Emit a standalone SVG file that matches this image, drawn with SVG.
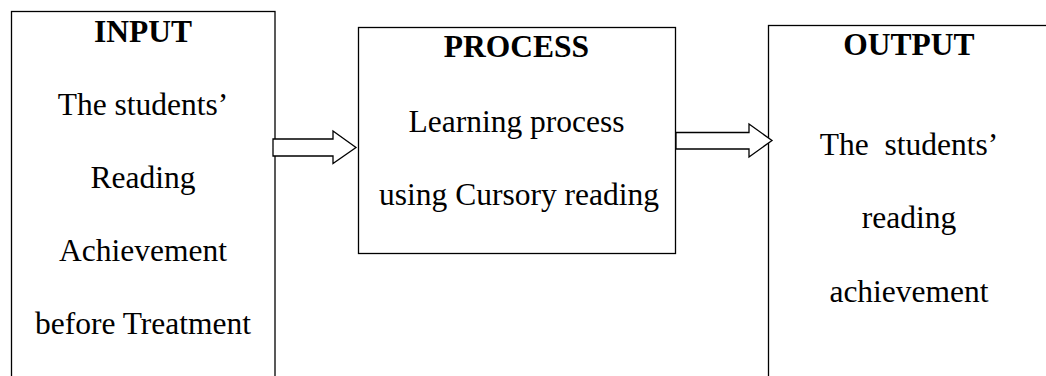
<svg xmlns="http://www.w3.org/2000/svg" width="1046" height="376" viewBox="0 0 1046 376">
  <style>
    .box { fill: #ffffff; stroke: #000000; stroke-width: 1.3; }
    .arrow { fill: #ffffff; stroke: #000000; stroke-width: 1.3; stroke-linejoin: miter; }
    text { font-family: 'Liberation Serif', serif; font-size: 31.5px; fill: #000000; text-anchor: middle; }
    .title { font-weight: bold; }
  </style>
  <rect width="1046" height="376" fill="#ffffff"/>

  <g id="input">
    <rect class="box" x="11.5" y="11.5" width="263.5" height="420"/>
    <text class="title" x="143" y="42">INPUT</text>
    <text x="143" y="115">The students’</text>
    <text x="143" y="187.5">Reading</text>
    <text x="143" y="260.5">Achievement</text>
    <text x="143" y="334">before Treatment</text>
  </g>

  <g id="process">
    <rect class="box" x="358.5" y="27.5" width="317" height="226"/>
    <text class="title" x="516.5" y="57">PROCESS</text>
    <text x="516.5" y="132">Learning process</text>
    <text x="519" y="204.5">using Cursory reading</text>
  </g>

  <g id="output">
    <rect class="box" x="768.5" y="25.5" width="320" height="420"/>
    <text class="title" x="909" y="55">OUTPUT</text>
    <text x="909" y="155" xml:space="preserve">The  students’</text>
    <text x="909" y="228">reading</text>
    <text x="909" y="302">achievement</text>
  </g>

  <g id="connectors">
    <polygon class="arrow" points="273,139 333,139 333,131 356,147.5 333,163.5 333,156 273,156"/>
    <polygon class="arrow" points="676,132.5 749,132.5 749,124 772,140.5 749,157 749,149 676,149"/>
  </g>
</svg>
